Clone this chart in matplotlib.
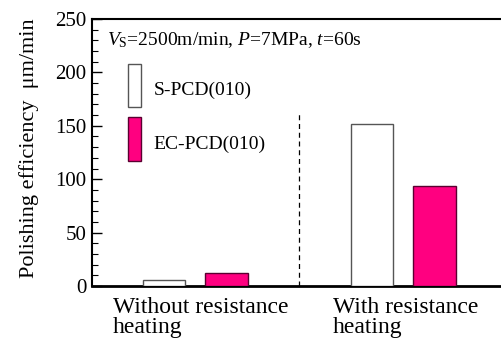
import matplotlib
matplotlib.use("Agg")
import matplotlib.pyplot as plt
from matplotlib.patches import Rectangle
from matplotlib.ticker import MultipleLocator

plt.rcParams['font.family'] = ['Liberation Serif', 'DejaVu Serif']
plt.rcParams['mathtext.fontset'] = 'custom'
plt.rcParams['mathtext.rm'] = 'Liberation Serif'
plt.rcParams['mathtext.it'] = 'Liberation Serif:italic'

categories = ["Without resistance\nheating", "With resistance\nheating"]
series_names = ["S-PCD(010)", "EC-PCD(010)"]
s_pcd = [6, 152]
ec_pcd = [12, 94]
colors = ["white", "#FF0080"]
edges = ["#555555", "#5a0030"]

fig = plt.figure(figsize=(5.02, 3.44), dpi=100)
ax = fig.add_axes([92/502, 58/344, 412/502, 267/344])

w = 0.205
off = 0.15
xs = list(range(len(categories)))
ax.bar([x - off for x in xs], s_pcd, width=w, color=colors[0], edgecolor=edges[0], linewidth=1.0, zorder=3)
ax.bar([x + off for x in xs], ec_pcd, width=w, color=colors[1], edgecolor=edges[1], linewidth=1.0, zorder=3)

ax.set_xlim(-0.497, 1.485)
ax.set_ylim(0, 250)
ax.axvline(0.5, ymin=0, ymax=162/250, color='black', linestyle=(0, (4, 3)), linewidth=0.9)

ax.spines['right'].set_visible(False)
ax.spines['top'].set_linewidth(1.5)
ax.spines['left'].set_linewidth(1.5)
ax.spines['bottom'].set_linewidth(2.0)
ax.yaxis.set_major_locator(MultipleLocator(50))
ax.yaxis.set_minor_locator(MultipleLocator(10))
ax.tick_params(axis='y', which='major', direction='in', length=7, width=1.0, labelsize=15, pad=4)
ax.tick_params(axis='y', which='minor', direction='in', length=4, width=0.8)
ax.set_xticks([])

ax.set_ylabel("Polishing efficiency  \u03bcm/min", fontsize=16)
ax.yaxis.set_label_coords(-0.129, 0.517)

# category labels
ax.text(-0.396, -0.040, categories[0], transform=ax.get_xaxis_transform(), ha='left', va='top', fontsize=17, linespacing=0.97)
ax.text(0.663, -0.040, categories[1], transform=ax.get_xaxis_transform(), ha='left', va='top', fontsize=17, linespacing=0.97)

# conditions
ax.text(0.036, 0.9026, r"$V_{\rm S}$=2500m/min, $P$=7MPa, $t$=60s", transform=ax.transAxes, fontsize=14, va='baseline', ha='left')

# legend
rects = [(167.6, 207.9), (117.0, 158.2)]
text_y = [178.8, 128.3]
for i, (name, c, e) in enumerate(zip(series_names, colors, edges)):
    lo, hi = rects[i]
    ax.add_patch(Rectangle((0.087, lo), 0.0316, hi - lo, transform=ax.get_yaxis_transform(), facecolor=c, edgecolor=e, linewidth=1.0))
    ax.text(0.150, text_y[i], name, transform=ax.get_yaxis_transform(), fontsize=14, va='baseline', ha='left')

fig.savefig("out.png", dpi=100)
